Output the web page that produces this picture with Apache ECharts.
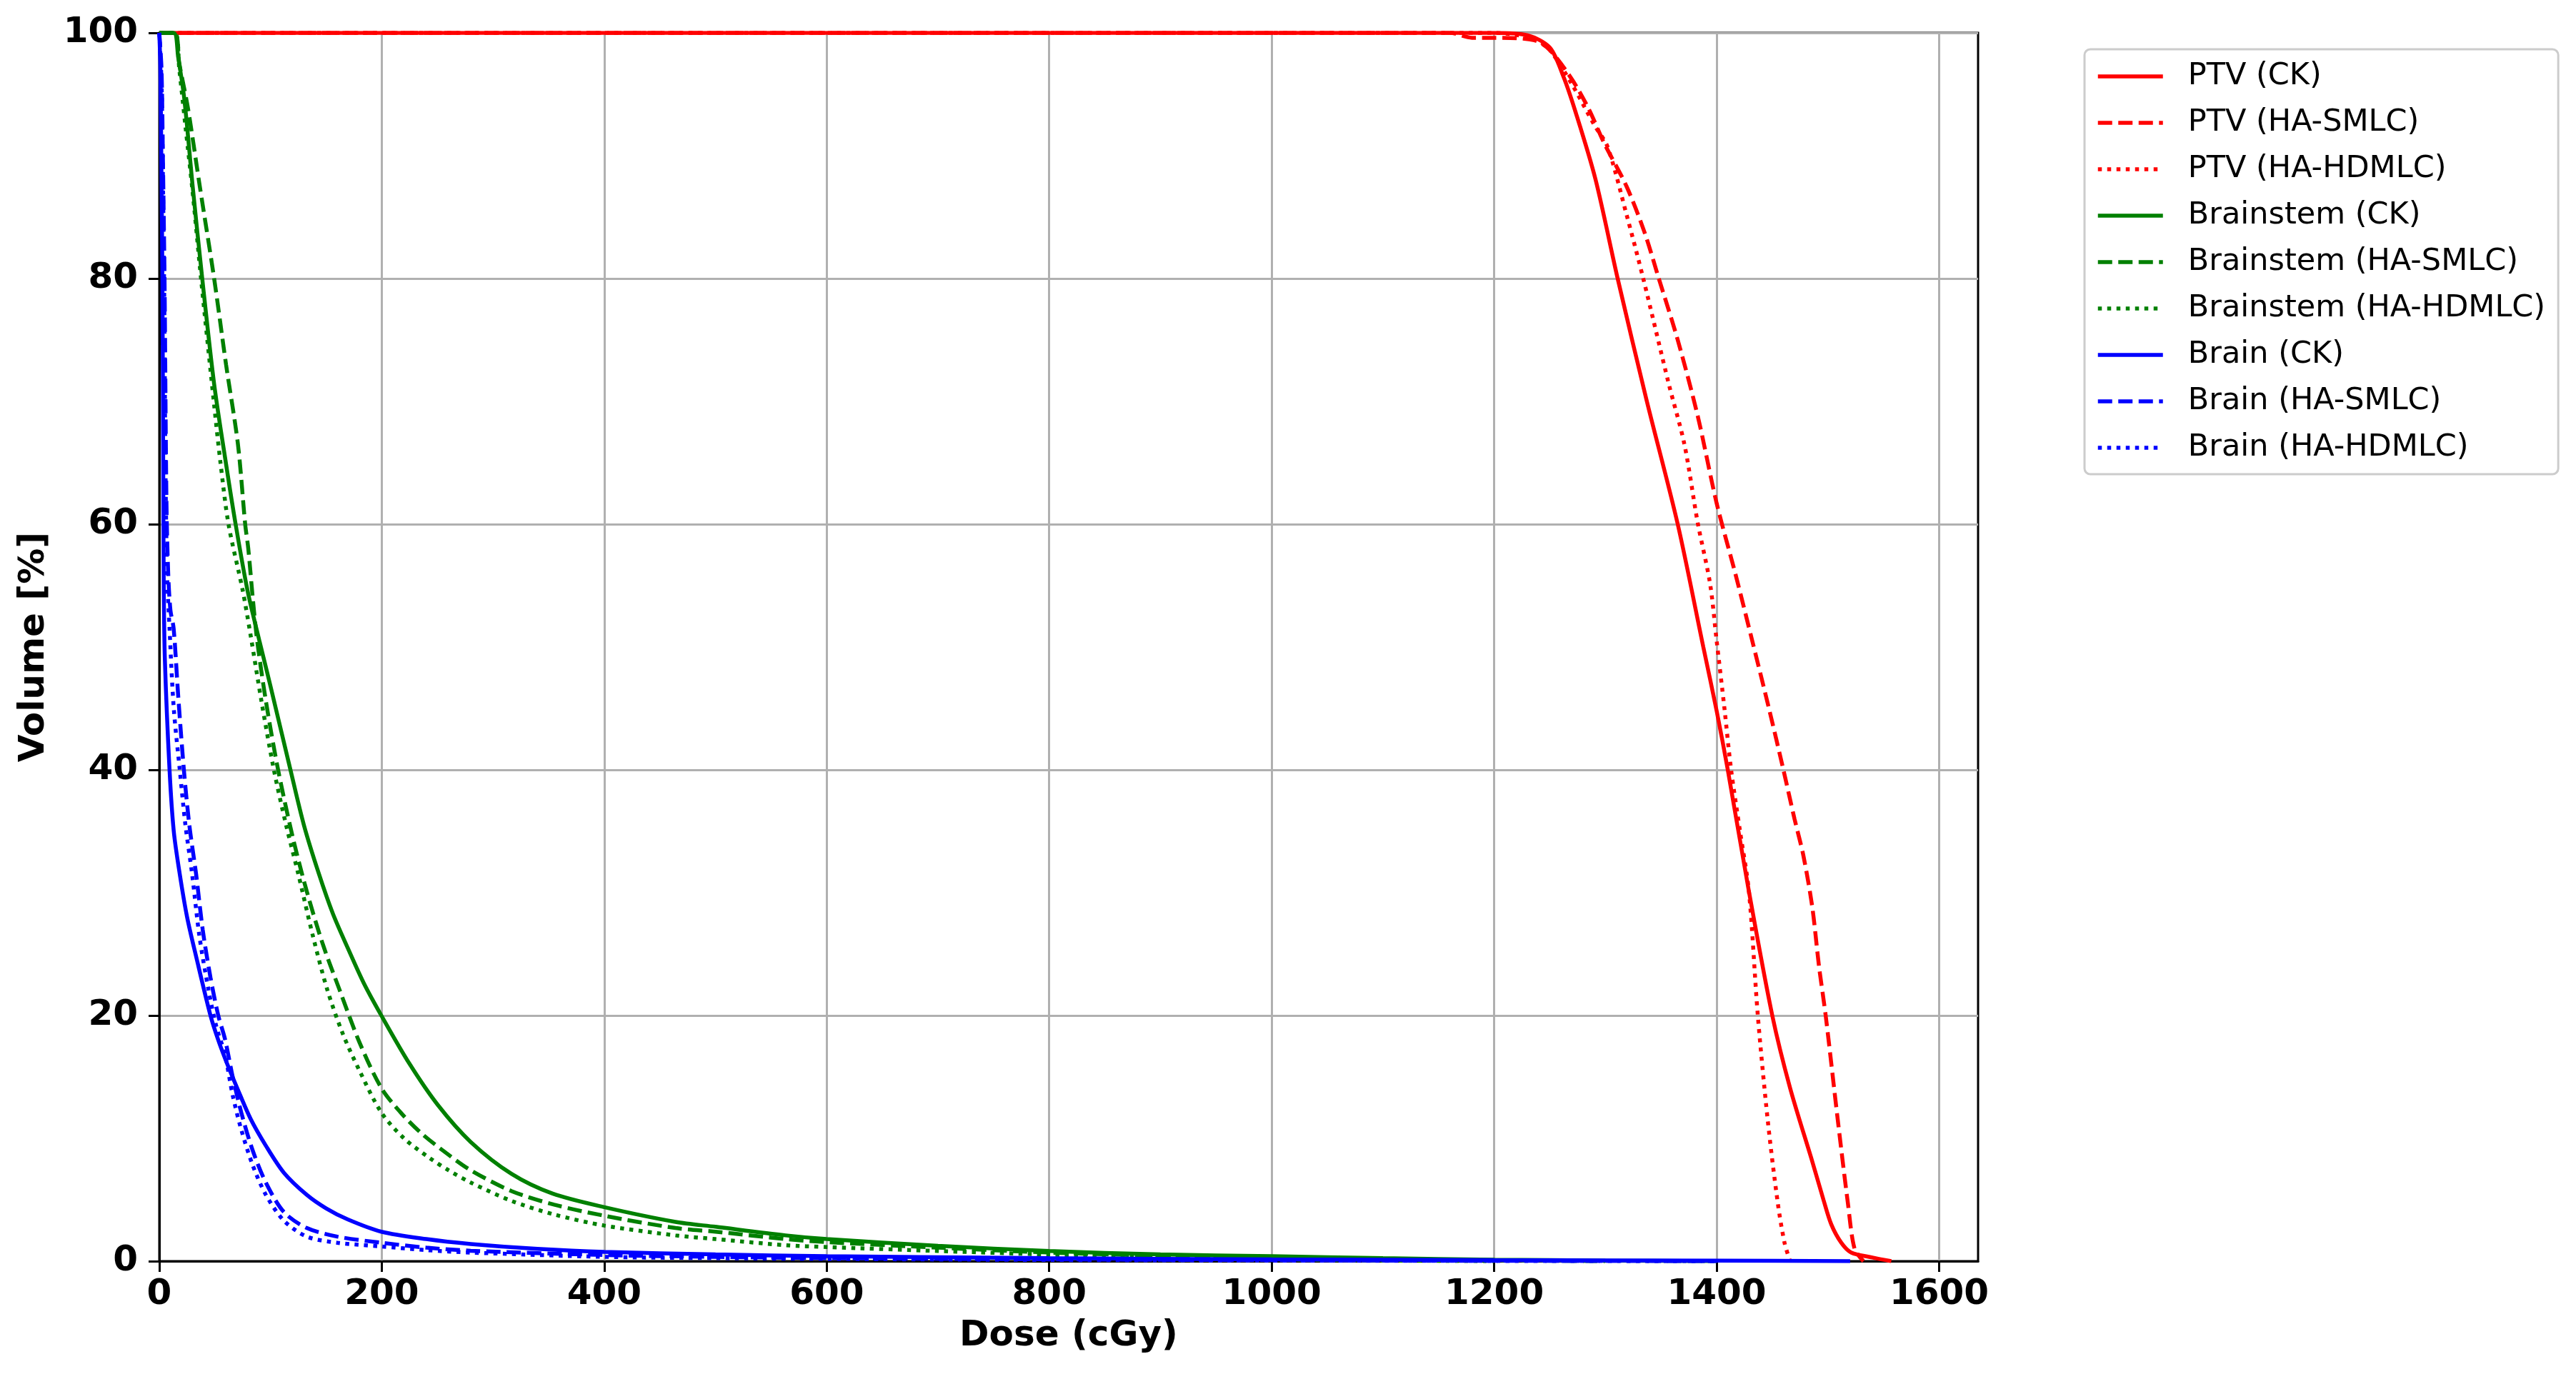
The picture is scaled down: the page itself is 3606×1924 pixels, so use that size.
<!DOCTYPE html>
<html>
<head>
<meta charset="utf-8">
<script src="https://cdn.jsdelivr.net/npm/echarts@6/dist/echarts.min.js"></script>
<style>
    html, body { margin: 0; padding: 0; background: #fff; }
    #chart { width: 3606px; height: 1924px; }
</style>
</head>
<body>
<div id="chart"></div>
<script>
// dose (cGy) / volume (%) pairs
var ptvCK = [[0,100],[1200,100],[1230,99.8],[1250,98.8],[1262,96.5],[1273,93.6],[1291,88.1],[1311,80],[1337,70.1],[1365,60],[1388,50],[1400,44.8],[1410,40],[1429,30.1],[1450,20],[1466,14.1],[1486,8.1],[1496,5],[1503,3.0],[1512,1.5],[1521,0.7],[1540,0.3],[1557,0]];
var ptvSMLC = [[0,100],[1160,100],[1180,99.6],[1200,99.6],[1236,99.4],[1250,98.6],[1270,96.2],[1285,93.8],[1299,91],[1319,87.5],[1335,83.8],[1348,80],[1365,75],[1383,68.8],[1400,61.7],[1417,55.9],[1432,50.5],[1447,45],[1460,40],[1470,36],[1478,33],[1486,28.8],[1492,24],[1498,20],[1509,11.4],[1518,4.7],[1524,1.0],[1532,0]];
var ptvHDMLC = [[0,100],[1200,100],[1236,99.5],[1250,98.6],[1270,95.8],[1290,92.5],[1302,90.7],[1319,85.2],[1334,80],[1357,71.4],[1371,66.5],[1383,60.1],[1394,55.2],[1400,50.5],[1407,45],[1413,40],[1421,35],[1429,30.1],[1437,20],[1446,11.4],[1455,4.7],[1461,1.5],[1466,0]];

var stemCK = [[0,100],[12.9,100],[17,98],[22.5,94.6],[30,87.5],[38.6,80],[49.3,71.4],[60,64.9],[68.6,60],[79.3,54.6],[90,50.5],[100,46.8],[117.9,40],[130,35.5],[143.6,31.5],[156,28.3],[169.4,25.5],[184,22.6],[199.6,20],[224.7,16.1],[250.5,12.7],[280,9.7],[316.8,7.1],[353.6,5.5],[400,4.4],[464,3.2],[500,2.8],[563,2.1],[600,1.8],[700,1.25],[800,0.83],[900,0.55],[1000,0.4],[1100,0.25],[1200,0.12],[1300,0.05],[1400,0]];
var stemSMLC = [[0,100],[13.9,100],[18,97.5],[25.7,93.9],[36.4,87.5],[49.3,80],[60,73],[70.7,66.5],[77.2,60],[80,58],[84,54],[88,50.5],[96,45.5],[106.8,40],[120,34.5],[132.6,30.1],[147,25.8],[162,22.1],[180,17.8],[199.6,14.1],[218,12],[235.7,10.4],[258,8.8],[280,7.4],[316.8,5.7],[355,4.6],[400,3.7],[464,2.7],[500,2.4],[563,1.8],[600,1.55],[700,1.1],[800,0.7],[900,0.45],[1000,0.3],[1100,0.18],[1200,0.08],[1300,0]];
var stemHDMLC = [[0,100],[13.9,100],[18,97],[23.6,92.3],[30,87],[37.5,80],[49.3,69.7],[55,65],[62.2,60],[75,54.6],[82,51],[92,45.5],[103,40],[114,35.5],[125,31.5],[138,26.5],[151,22.1],[165,18.5],[180,15.5],[199.6,12.1],[220,10],[243,8.4],[260,7.4],[280,6.4],[316.8,4.9],[355,3.8],[400,2.9],[464,2.1],[500,1.8],[563,1.3],[600,1.15],[700,0.83],[800,0.54],[900,0.3],[1000,0.15],[1100,0.05],[1200,0]];

var brainCK = [[0,100],[1,97],[2,88],[2.8,80],[3.5,65],[4,55],[5,49],[9.2,40],[13,35],[18.4,31.5],[25,28],[33.1,24.8],[46,20],[53,18],[60,16.3],[70,14.1],[82,11.6],[95.8,9.4],[112,7.2],[132.6,5.4],[150,4.3],[169.4,3.4],[199.6,2.4],[240,1.8],[280,1.4],[340,1.0],[400,0.75],[500,0.55],[600,0.4],[800,0.25],[1000,0.15],[1200,0.08],[1400,0.04],[1520,0]];
var brainSMLC = [[0,100],[2,97],[3.2,90],[4.7,80],[6.4,62],[8,56],[10,53],[12.9,51.5],[17,46],[22.1,40],[27,35.5],[33.1,31.5],[39,27],[46,23.1],[53,20],[59,18.1],[66,15],[73.7,12.1],[84,9],[95.8,6.4],[112,4],[132.6,2.7],[160,2.0],[199.6,1.5],[240,1.1],[280,0.85],[400,0.5],[500,0.35],[600,0.25],[800,0.15],[1000,0.08],[1200,0.03],[1400,0]];
var brainHDMLC = [[0,100],[2,96],[3,90],[4.5,78],[5.5,65],[7,56],[9.2,51.5],[13,45],[18.4,40],[23.5,35.5],[29.5,31.5],[36,26.5],[44.2,22.1],[51,19.2],[59,16.8],[66,13.5],[73.7,10.7],[84,7.8],[95.8,5.4],[112,3.3],[132.6,2.0],[160,1.5],[199.6,1.2],[240,0.9],[280,0.7],[400,0.35],[500,0.25],[600,0.18],[800,0.1],[1000,0.05],[1200,0.02],[1400,0]];

var xTicks = [0, 200, 400, 600, 800, 1000, 1200, 1400, 1600];
var yTicks = [0, 20, 40, 60, 80, 100];

var font = 'DejaVu Sans';
var dashed = [20, 8.5];
var dotted = [5.5, 7.5];

function mk(name, data, color, type) {
    return {
        name: name,
        type: 'line',
        data: data,
        symbol: 'none',
        smooth: 0.3,
        lineStyle: { color: color, width: 5.5, type: type, cap: 'butt' },
        itemStyle: { color: color }
    };
}

var chart = echarts.init(document.getElementById('chart'), null, { renderer: 'canvas' });
var option = {
    animation: false,
    backgroundColor: '#fff',
    textStyle: { fontFamily: font },
    grid: {
        left: 223, top: 46, width: 2546, height: 1720,
        show: true, borderColor: '#000', borderWidth: 3
    },
    legend: {
        orient: 'vertical',
        left: 2918, top: 69,
        padding: [13, 18, 12, 16],
        itemWidth: 91, itemHeight: 50, itemGap: 15,
        borderColor: '#cccccc', borderWidth: 3, borderRadius: 8,
        backgroundColor: '#fff',
        lineStyle: { width: 5.5 },
        itemStyle: { color: 'rgba(0,0,0,0)', borderColor: 'rgba(0,0,0,0)', borderWidth: 0, opacity: 0 },
        textStyle: { fontFamily: font, fontSize: 43, color: '#000', lineHeight: 50, padding: [0, 0, 0, 30] }
    },
    xAxis: {
        type: 'value', min: 0, max: 1635,
        name: 'Dose (cGy)', nameLocation: 'middle', nameGap: 80,
        nameTextStyle: { fontFamily: font, fontSize: 50, fontWeight: 'bold', color: '#000' },
        axisLine: { show: true, lineStyle: { color: '#000', width: 3 } },
        axisTick: { show: true, inside: false, length: 15, customValues: xTicks, lineStyle: { color: '#000', width: 3 } },
        axisLabel: { customValues: xTicks, margin: 22, fontFamily: font, fontSize: 50, fontWeight: 'bold', color: '#000',
            formatter: function (v) { return String(v); } },
        splitLine: { show: true, lineStyle: { color: '#b0b0b0', width: 3 } }
    },
    yAxis: {
        type: 'value', min: 0, max: 100, interval: 20,
        name: 'Volume [%]', nameLocation: 'middle', nameGap: 150, nameRotate: 90,
        nameTextStyle: { fontFamily: font, fontSize: 50, fontWeight: 'bold', color: '#000' },
        axisLine: { show: true, lineStyle: { color: '#000', width: 3 } },
        axisTick: { show: true, inside: false, length: 15, customValues: yTicks, lineStyle: { color: '#000', width: 3 } },
        axisLabel: { customValues: yTicks, margin: 30, fontFamily: font, fontSize: 50, fontWeight: 'bold', color: '#000',
            formatter: function (v) { return String(v); } },
        splitLine: { show: true, lineStyle: { color: '#b0b0b0', width: 3 } }
    },
    series: [
        mk('PTV (CK)', ptvCK, '#ff0000', 'solid'),
        mk('PTV (HA-SMLC)', ptvSMLC, '#ff0000', dashed),
        mk('PTV (HA-HDMLC)', ptvHDMLC, '#ff0000', dotted),
        mk('Brainstem (CK)', stemCK, '#008000', 'solid'),
        mk('Brainstem (HA-SMLC)', stemSMLC, '#008000', dashed),
        mk('Brainstem (HA-HDMLC)', stemHDMLC, '#008000', dotted),
        mk('Brain (CK)', brainCK, '#0000ff', 'solid'),
        mk('Brain (HA-SMLC)', brainSMLC, '#0000ff', dashed),
        mk('Brain (HA-HDMLC)', brainHDMLC, '#0000ff', dotted)
    ]
};
chart.setOption(option);
</script>
</body>
</html>
